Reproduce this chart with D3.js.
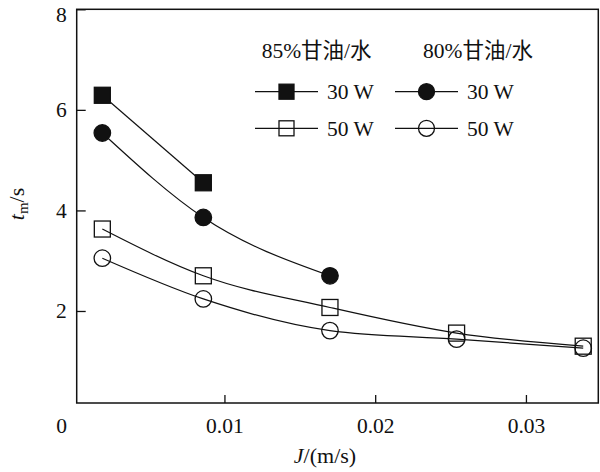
<!DOCTYPE html>
<html><head><meta charset="utf-8">
<script src="https://cdn.jsdelivr.net/npm/d3@7"></script>
<style>
html,body{margin:0;padding:0;background:#fff;}
text{font-family:"Liberation Serif","Times New Roman","Noto Sans CJK SC",serif;fill:#111;}
</style></head>
<body><svg id="c" width="600" height="472"></svg>
<script>
// data
const J = [0.0019, 0.0086, 0.0170, 0.0254, 0.0338];
const g85_30W = [6.29, 4.55];
const g80_30W = [5.54, 3.86, 2.70];
const g85_50W = [3.63, 2.70, 2.07, 1.56, 1.30];
const g80_50W = [3.05, 2.24, 1.61, 1.44, 1.26];
const xTicks = [0.01, 0.02, 0.03];
const xTickLabels = ["0.01", "0.02", "0.03"];
const yTicks = [2, 4, 6, 8];
const yTickLabels = ["2", "4", "6", "8"];
const groupTitles = ["85%甘油/水", "80%甘油/水"];
const powerLabels = ["30 W", "50 W"];

const series = [
  {vals: g85_30W, shape: "square", fill: true},
  {vals: g80_30W, shape: "circle", fill: true},
  {vals: g85_50W, shape: "square", fill: false},
  {vals: g80_50W, shape: "circle", fill: false}
];

const FONT = '"Liberation Serif","Times New Roman","Noto Sans CJK SC",serif';
const svg = d3.select("#c");
const L = 76.7, R = 598.3, T = 9.3, B = 403;
const x = d3.scaleLinear().domain([0.0002, 0.0348]).range([L, R]);
const y = d3.scaleLinear().domain([0.17, 8]).range([B, T]);
const ink = "#111";

// frame
svg.append("rect").attr("x", L).attr("y", T).attr("width", R - L).attr("height", B - T)
  .attr("fill", "none").attr("stroke", ink).attr("stroke-width", 1.5);

// x axis
const xa = svg.append("g").attr("transform", `translate(0,${B})`)
  .call(d3.axisBottom(x).tickValues(xTicks).tickFormat((d, i) => xTickLabels[i])
    .tickSizeInner(-8).tickSizeOuter(0).tickPadding(15));
xa.attr("font-family", null).attr("font-size", null);
xa.select(".domain").remove();
xa.selectAll("line").attr("stroke", ink).attr("stroke-width", 1.3);
xa.selectAll("text").style("font-size", "21.5px").style("font-family", FONT).attr("fill", ink);
// x origin label
svg.append("text").attr("x", x(0) - 12).attr("y", B + 15).attr("dy", "0.71em")
  .attr("text-anchor", "middle").style("font-size", "21.5px").style("font-family", FONT).text("0");

// y axis
const ya = svg.append("g").attr("transform", `translate(${L},0)`)
  .call(d3.axisLeft(y).tickValues(yTicks).tickFormat((d, i) => yTickLabels[i])
    .tickSizeInner(-9).tickSizeOuter(0).tickPadding(10));
ya.attr("font-family", null).attr("font-size", null);
ya.select(".domain").remove();
ya.selectAll("line").attr("stroke", ink).attr("stroke-width", 1.3);
ya.selectAll("text").style("font-size", "21.5px").style("font-family", FONT).attr("fill", ink)
  .attr("dy", d => d === 8 ? "0.55em" : "0.32em");

// axis titles
const yl = svg.append("text").attr("transform", "translate(24,204) rotate(-90)")
  .attr("text-anchor", "middle").style("font-size", "22px").style("font-family", FONT);
yl.append("tspan").attr("font-style", "italic").text("t");
yl.append("tspan").style("font-size", "15px").attr("dy", 4).text("m");
yl.append("tspan").attr("dy", -4).text("/s");

const xl = svg.append("text").attr("x", 325).attr("y", 463)
  .attr("text-anchor", "middle").style("font-size", "22px").style("font-family", FONT);
xl.append("tspan").attr("font-style", "italic").text("J");
xl.append("tspan").text("/(m/s)");

// lines
const line = d3.line().x((d, i) => x(J[i])).y(d => y(d)).curve(d3.curveMonotoneX);
series.forEach(s => {
  svg.append("path").attr("d", line(s.vals)).attr("fill", "none")
    .attr("stroke", ink).attr("stroke-width", 1.2);
});

function marker(g, shape, fill, cx, cy, size) {
  if (shape === "square") {
    g.append("rect").attr("x", cx - size / 2).attr("y", cy - size / 2)
      .attr("width", size).attr("height", size)
      .attr("fill", fill ? ink : "none").attr("stroke", ink).attr("stroke-width", 1.3);
  } else {
    g.append("circle").attr("cx", cx).attr("cy", cy).attr("r", size / 2)
      .attr("fill", fill ? ink : "none").attr("stroke", ink).attr("stroke-width", 1.3);
  }
}

// markers
series.forEach(s => {
  const g = svg.append("g");
  s.vals.forEach((v, i) => marker(g, s.shape, s.fill, x(J[i]), y(v), s.shape === "square" ? 16 : 16.5));
});

// legend
const colX = [255, 395];
const rowY = [91.7, 128.3];
const titleX = [261.7, 423];
groupTitles.forEach((t, c) => {
  svg.append("text").attr("x", titleX[c]).attr("y", 58)
    .style("font-size", "21.5px").style("font-family", FONT).text(t);
});
series.forEach((s, k) => {
  const c = k % 2, r = Math.floor(k / 2);
  const lg = svg.append("g");
  lg.append("line").attr("x1", colX[c]).attr("x2", colX[c] + 63)
    .attr("y1", rowY[r]).attr("y2", rowY[r]).attr("stroke", ink).attr("stroke-width", 1.2);
  marker(lg, s.shape, s.fill, colX[c] + 31.5, rowY[r], s.shape === "square" ? 15 : 16);
  lg.append("text").attr("x", colX[c] + 72).attr("y", rowY[r]).attr("dy", "0.34em")
    .style("font-size", "21.5px").style("font-family", FONT).text(powerLabels[r]);
});
</script></body></html>
